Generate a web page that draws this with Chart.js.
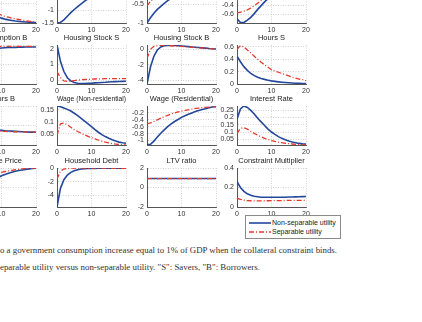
<!DOCTYPE html>
<html lang="en">
<head>
<meta charset="UTF-8" />
<title>Impulse responses</title>
<script src="https://cdn.jsdelivr.net/npm/chart.js"></script>
<style>
  html, body { margin: 0; padding: 0; background: #fff; }
  body {
    width: 422px;
    height: 322px;
    position: relative;
    overflow: hidden;
    font-family: "Liberation Sans", Arial, sans-serif;
  }
  .panel { position: absolute; }
  .legend {
    position: absolute;
    left: 245px;
    top: 215px;
    width: 94px;
    height: 22px;
    border: 1px solid #8a8a8a;
    background: #fff;
    font-size: 7px;
    color: #222;
  }
  .legend .row { position: absolute; left: 3px; height: 9px; line-height: 9px; white-space: nowrap; }
  .legend svg { vertical-align: middle; margin-right: 1px; }
  .note {
    position: absolute;
    left: 0;
    font-family: "Liberation Serif", "DejaVu Serif", serif;
    font-size: 8px;
    color: #333;
    white-space: nowrap;
    transform-origin: left center;
  }
</style>
</head>
<body>

<div class="legend">
  <div class="row" style="top:2px">
    <svg width="22" height="4"><line x1="0" y1="2" x2="22" y2="2" stroke="#24479c" stroke-width="1.6"/></svg>Non-separable utility
  </div>
  <div class="row" style="top:11px">
    <svg width="22" height="4"><line x1="0" y1="2" x2="22" y2="2" stroke="#e23b2b" stroke-width="1.3" stroke-dasharray="5 2 1 2"/></svg>Separable utility
  </div>
</div>

<div class="note" id="note1" style="top:246px">o a government consumption increase equal to 1% of GDP when the collateral constraint binds.</div>
<div class="note" id="note2" style="top:263px">eparable utility versus non-separable utility. "S": Savers, "B": Borrowers.</div>

<script>
  const periods = [0,1,2,3,4,5,6,7,8,9,10,11,12,13,14,15,16,17,18,19,20];
  const xTicks = [0, 10, 20];

  // top row, titles are above the crop
  const a0Blue = [1.0,0.82,0.67,0.55,0.45,0.37,0.3,0.245,0.2,0.16,0.125,0.1,0.08,0.065,0.052,0.042,0.034,0.027,0.02,0.015,0.012];
  const a0Red  = [0.9,0.8,0.7,0.6,0.52,0.45,0.39,0.34,0.29,0.25,0.2,0.17,0.15,0.125,0.105,0.09,0.075,0.06,0.045,0.035,0.025];
  const a1Blue = [-1.5,-1.48,-1.38,-1.24,-1.1,-0.98,-0.87,-0.76,-0.66,-0.57,-0.49,-0.42,-0.36,-0.3,-0.25,-0.2,-0.16,-0.12,-0.09,-0.06,-0.04];
  const a1Red  = [-0.6,-0.55,-0.5,-0.45,-0.4,-0.36,-0.32,-0.28,-0.24,-0.21,-0.18,-0.15,-0.12,-0.1,-0.08,-0.06,-0.05,-0.04,-0.03,-0.02,-0.01];
  const a2Blue = [-1,-0.86,-0.74,-0.64,-0.56,-0.48,-0.41,-0.35,-0.3,-0.25,-0.21,-0.17,-0.14,-0.11,-0.09,-0.07,-0.05,-0.03,-0.02,-0.01,0];
  const a2Red  = [-0.55,-0.43,-0.34,-0.27,-0.21,-0.16,-0.12,-0.09,-0.06,-0.04,-0.02,-0.01,0,0.01,0.01,0.02,0.02,0.02,0.02,0.02,0.02];
  const a3Blue = [-0.69,-0.77,-0.77,-0.72,-0.66,-0.58,-0.49,-0.41,-0.33,-0.26,-0.2,-0.15,-0.11,-0.07,-0.04,-0.02,0,0.01,0.02,0.03,0.03];
  const a3Red  = [-0.565,-0.55,-0.53,-0.5,-0.46,-0.41,-0.36,-0.3,-0.25,-0.2,-0.16,-0.12,-0.09,-0.06,-0.03,-0.01,0,0.01,0.02,0.03,0.04];

  const consBBlue = [-2,-1.5,-1.1,-0.8,-0.6,-0.45,-0.35,-0.28,-0.22,-0.18,-0.15,-0.14,-0.13,-0.125,-0.12,-0.115,-0.11,-0.105,-0.1,-0.1,-0.1];
  const consBRed  = [-1.2,-0.8,-0.5,-0.35,-0.25,-0.18,-0.13,-0.1,-0.09,-0.08,-0.075,-0.07,-0.07,-0.07,-0.07,-0.07,-0.07,-0.07,-0.07,-0.07,-0.07];
  const hsSBlue = [2.25,1.2,0.55,0.15,-0.05,-0.15,-0.2,-0.22,-0.22,-0.21,-0.2,-0.18,-0.17,-0.15,-0.14,-0.12,-0.11,-0.1,-0.09,-0.08,-0.07];
  const hsSRed  = [0.55,0.15,-0.05,-0.08,-0.06,-0.03,0,0.02,0.04,0.05,0.06,0.07,0.08,0.08,0.09,0.09,0.1,0.1,0.1,0.1,0.1];
  const hsBBlue = [-4.5,-2.3,-0.9,-0.1,0.3,0.45,0.5,0.5,0.48,0.45,0.42,0.38,0.34,0.3,0.26,0.22,0.18,0.14,0.1,0.07,0.04];
  const hsBRed  = [-1.2,0,0.38,0.48,0.5,0.5,0.48,0.45,0.42,0.39,0.36,0.33,0.3,0.26,0.23,0.19,0.16,0.12,0.09,0.06,0.04];
  const hoursSBlue = [0.45,0.36,0.28,0.22,0.17,0.135,0.11,0.09,0.075,0.062,0.05,0.042,0.035,0.029,0.024,0.02,0.016,0.013,0.01,0.008,0.006];
  const hoursSRed  = [0.56,0.62,0.6,0.55,0.5,0.45,0.4,0.35,0.31,0.27,0.23,0.21,0.19,0.17,0.15,0.13,0.11,0.095,0.08,0.07,0.055];

  const hoursBBlue = [1,0.85,0.72,0.62,0.55,0.49,0.45,0.42,0.4,0.385,0.375,0.365,0.36,0.355,0.35,0.345,0.34,0.335,0.33,0.33,0.325];
  const hoursBRed  = [0.7,0.6,0.52,0.46,0.42,0.4,0.38,0.37,0.365,0.36,0.355,0.35,0.345,0.34,0.34,0.335,0.335,0.33,0.33,0.33,0.33];
  const wageNBlue = [0.166,0.163,0.158,0.152,0.145,0.136,0.126,0.115,0.103,0.092,0.08,0.068,0.057,0.047,0.039,0.032,0.026,0.021,0.016,0.013,0.011];
  const wageNRed  = [0.045,0.092,0.095,0.088,0.078,0.068,0.06,0.053,0.046,0.04,0.034,0.029,0.024,0.02,0.016,0.013,0.01,0.008,0.006,0.005,0.004];
  const wageRBlue = [-1.12,-1.11,-1.02,-0.9,-0.79,-0.69,-0.6,-0.52,-0.45,-0.39,-0.33,-0.28,-0.24,-0.2,-0.16,-0.13,-0.1,-0.08,-0.05,-0.03,-0.02];
  const wageRRed  = [-0.52,-0.49,-0.45,-0.4,-0.35,-0.31,-0.27,-0.23,-0.2,-0.17,-0.15,-0.13,-0.11,-0.09,-0.07,-0.06,-0.05,-0.04,-0.03,-0.02,-0.02];
  const rateBlue = [0.19,0.26,0.28,0.27,0.25,0.225,0.195,0.17,0.145,0.12,0.1,0.083,0.068,0.056,0.046,0.038,0.031,0.026,0.021,0.018,0.016];
  const rateRed  = [0.09,0.125,0.13,0.12,0.105,0.09,0.078,0.066,0.056,0.048,0.041,0.035,0.03,0.026,0.022,0.019,0.017,0.015,0.013,0.012,0.011];

  const priceBlue = [-1,-0.85,-0.74,-0.64,-0.56,-0.49,-0.42,-0.36,-0.3,-0.25,-0.2,-0.165,-0.135,-0.11,-0.085,-0.065,-0.05,-0.035,-0.022,-0.012,-0.005];
  const priceRed  = [-0.6,-0.5,-0.42,-0.36,-0.3,-0.26,-0.22,-0.19,-0.16,-0.135,-0.11,-0.09,-0.075,-0.06,-0.045,-0.035,-0.025,-0.016,-0.01,-0.005,-0.002];
  const debtBlue = [-5.8,-3,-1.7,-1,-0.6,-0.35,-0.2,-0.11,-0.06,-0.03,-0.01,0,0.01,0.01,0.01,0.01,0.01,0.01,0.01,0.01,0.01];
  const debtRed  = [-1.6,-0.4,-0.1,-0.02,0.02,0.03,0.03,0.03,0.03,0.02,0.02,0.02,0.02,0.02,0.01,0.01,0.01,0.01,0.01,0.01,0.01];
  const ltvBlue = [0.92,0.92,0.92,0.92,0.92,0.92,0.92,0.92,0.92,0.92,0.92,0.92,0.92,0.92,0.92,0.92,0.92,0.92,0.92,0.92,0.92];
  const ltvRed  = [0.92,0.92,0.92,0.92,0.92,0.92,0.92,0.92,0.92,0.92,0.92,0.92,0.92,0.92,0.92,0.92,0.92,0.92,0.92,0.92,0.92];
  const multBlue = [0.26,0.2,0.16,0.135,0.12,0.11,0.105,0.1,0.1,0.1,0.1,0.1,0.1,0.1,0.1,0.102,0.103,0.104,0.105,0.106,0.107];
  const multRed  = [0.09,0.078,0.07,0.066,0.064,0.063,0.063,0.063,0.064,0.064,0.065,0.065,0.066,0.066,0.067,0.067,0.067,0.068,0.068,0.068,0.068];

  // y tick values per panel
  const a0Ticks = [0, 0.5, 1];
  const a1Ticks = [-1.5, -1, -0.5, 0];
  const a2Ticks = [-1, -0.5, 0];
  const a3Ticks = [-0.6, -0.4, -0.2, 0];
  const consBTicks = [-2, -1, 0];
  const hsSTicks = [0, 1, 2];
  const hsBTicks = [-4, -2, 0];
  const hoursSTicks = [0, 0.2, 0.4, 0.6];
  const hoursBTicks = [0, 0.5, 1];
  const wageNTicks = [0.05, 0.1, 0.15];
  const wageRTicks = [-1, -0.8, -0.6, -0.4, -0.2];
  const rateTicks = [0.05, 0.1, 0.15, 0.2, 0.25];
  const priceTicks = [-1, -0.5, 0];
  const debtTicks = [-4, -2, 0];
  const ltvTicks = [-2, 0, 2];
  const multTicks = [0, 0.2, 0.4];

  const panels = [
    { row: 0, col: 0, title: '', blue: a0Blue, red: a0Red, min: 0, max: 1, ticks: a0Ticks },
    { row: 0, col: 1, title: '', blue: a1Blue, red: a1Red, min: -1.5, max: 0, ticks: a1Ticks },
    { row: 0, col: 2, title: '', blue: a2Blue, red: a2Red, min: -1, max: 0.03, ticks: a2Ticks },
    { row: 0, col: 3, title: '', blue: a3Blue, red: a3Red, min: -0.78, max: 0.05, ticks: a3Ticks },
    { row: 1, col: 0, title: 'Consumption B', blue: consBBlue, red: consBRed, min: -2, max: 0, ticks: consBTicks },
    { row: 1, col: 1, title: 'Housing Stock S', blue: hsSBlue, red: hsSRed, min: -0.25, max: 2.25, ticks: hsSTicks },
    { row: 1, col: 2, title: 'Housing Stock B', blue: hsBBlue, red: hsBRed, min: -4.5, max: 0.55, ticks: hsBTicks },
    { row: 1, col: 3, title: 'Hours S', blue: hoursSBlue, red: hoursSRed, min: 0, max: 0.63, ticks: hoursSTicks },
    { row: 2, col: 0, title: 'Hours B', blue: hoursBBlue, red: hoursBRed, min: 0, max: 1, ticks: hoursBTicks },
    { row: 2, col: 1, title: 'Wage (Non-residential)', blue: wageNBlue, red: wageNRed, min: 0.004, max: 0.166, ticks: wageNTicks },
    { row: 2, col: 2, title: 'Wage (Residential)', blue: wageRBlue, red: wageRRed, min: -1.13, max: 0, ticks: wageRTicks },
    { row: 2, col: 3, title: 'Interest Rate', blue: rateBlue, red: rateRed, min: 0.01, max: 0.28, ticks: rateTicks },
    { row: 3, col: 0, title: 'House Price', blue: priceBlue, red: priceRed, min: -1, max: 0, ticks: priceTicks },
    { row: 3, col: 1, title: 'Household Debt', blue: debtBlue, red: debtRed, min: -5.8, max: 0.05, ticks: debtTicks },
    { row: 3, col: 2, title: 'LTV ratio', blue: ltvBlue, red: ltvRed, min: -2, max: 2, ticks: ltvTicks },
    { row: 3, col: 3, title: 'Constraint Multiplier', blue: multBlue, red: multRed, min: 0, max: 0.4, ticks: multTicks }
  ];

  const colLeft = [-33, 57, 147, 237];
  const rowTop = [-16, 45, 106, 168];
  const plotW = 69, plotH = 39;
  const yAxisW = 34, xAxisH = 14, titleH = 12, padRight = 10;
  const tickFont = { family: '"Liberation Sans", Arial, sans-serif', size: 7 };

  function toPoints(values) {
    return values.map((v, i) => ({ x: periods[i], y: v }));
  }

  panels.forEach(p => {
    const canvas = document.createElement('canvas');
    canvas.className = 'panel';
    const w = plotW + yAxisW + padRight;
    const h = titleH + plotH + xAxisH;
    canvas.width = w;
    canvas.height = h;
    canvas.style.left = (colLeft[p.col] - yAxisW) + 'px';
    canvas.style.top = (rowTop[p.row] - titleH) + 'px';
    canvas.style.width = w + 'px';
    canvas.style.height = h + 'px';
    document.body.insertBefore(canvas, document.querySelector('.legend'));

    new Chart(canvas, {
      type: 'line',
      data: {
        datasets: [
          {
            label: 'Non-separable utility',
            data: toPoints(p.blue),
            borderColor: '#24479c',
            borderWidth: 1.6,
            pointRadius: 0,
            tension: 0,
            order: 2
          },
          {
            label: 'Separable utility',
            data: toPoints(p.red),
            borderColor: '#e23b2b',
            borderWidth: 1.3,
            borderDash: [5, 2, 1, 2],
            pointRadius: 0,
            tension: 0,
            order: 1
          }
        ]
      },
      options: {
        responsive: false,
        animation: false,
        devicePixelRatio: 1,
        layout: { padding: { top: 0, left: 0, right: padRight, bottom: 0 } },
        plugins: {
          legend: { display: false },
          tooltip: { enabled: false },
          title: {
            display: true,
            fullSize: false,   // keep the title centred over the plot area only
            text: p.title,
            color: '#222',
            font: { family: tickFont.family, size: 7.5, weight: 'normal', lineHeight: 1.2 },
            padding: { top: 0, bottom: titleH - 9 }
          }
        },
        scales: {
          x: {
            type: 'linear',
            min: 0,
            max: 20,
            afterBuildTicks: s => { s.ticks = xTicks.map(v => ({ value: v })); },
            afterFit: s => { s.height = xAxisH; s.paddingLeft = 0; s.paddingRight = 0; },
            grid: { color: '#c8c8c8', lineWidth: 0.8, drawTicks: false },
            border: { color: '#555', width: 1, dash: [1, 1.5] },
            ticks: { font: tickFont, color: '#333', padding: 3, maxRotation: 0, autoSkip: false }
          },
          y: {
            min: p.min,
            max: p.max,
            afterBuildTicks: s => { s.ticks = p.ticks.map(v => ({ value: v })); },
            afterFit: s => { s.width = yAxisW; s.paddingTop = 0; s.paddingBottom = 0; },
            grid: { color: '#c8c8c8', lineWidth: 0.8, drawTicks: false },
            border: { color: '#555', width: 1, dash: [1, 1.5] },
            ticks: {
              font: tickFont,
              color: '#333',
              padding: 3,
              autoSkip: false,
              callback: v => String(+v.toFixed(3))
            }
          }
        }
      }
    });
  });

  // squeeze the caption lines to the width they take in the figure
  [['note1', 337], ['note2', 260]].forEach(([id, target]) => {
    const el = document.getElementById(id);
    const wNow = el.getBoundingClientRect().width;
    if (wNow > 0) el.style.transform = 'scaleX(' + (target / wNow) + ')';
  });
</script>

</body>
</html>
